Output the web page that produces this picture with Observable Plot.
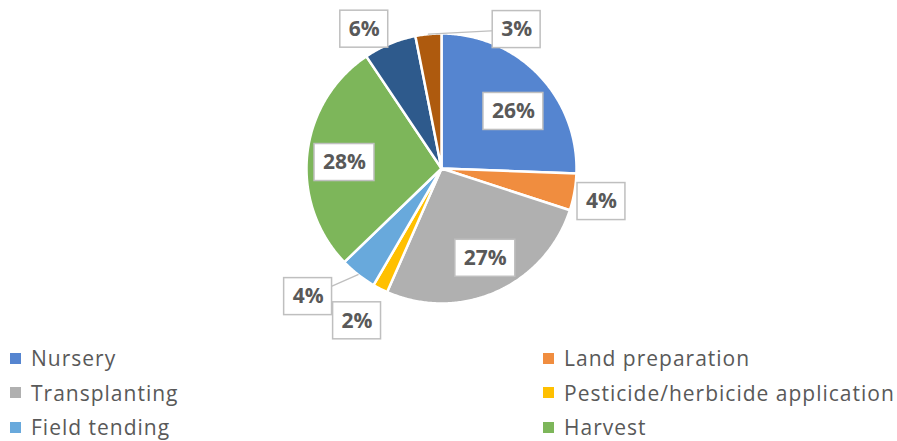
<!DOCTYPE html>
<html>
<head>
<meta charset="utf-8">
<script src="https://cdn.jsdelivr.net/npm/d3@7"></script>
<script src="https://cdn.jsdelivr.net/npm/@observablehq/plot@0.6"></script>
<style>
  html, body { margin: 0; padding: 0; background: #fff; }
  #chart svg { display: block; }
  #legend {
    display: grid;
    grid-template-columns: 533px 1fr;
    grid-auto-rows: 34.5px;
    padding-left: 10px;
    font-family: "Open Sans", Lato, sans-serif;
    font-size: 21px;
    letter-spacing: 1px;
    color: #595959;
  }
  .item { display: flex; align-items: center; white-space: nowrap; }
  .sw { width: 11px; height: 11px; margin-right: 10px; flex: none; }
</style>
</head>
<body>
<div id="chart"></div>
<div id="legend"></div>
<script>
// ---- data ----
const categories = ["Nursery", "Land preparation", "Transplanting", "Pesticide/herbicide application",
                    "Field tending", "Harvest", "Post-harvest", "Marketing"];
const values = [25.6, 4.4, 26.6, 1.8, 4.4, 27.8, 6.3, 3.1];
const legendShown = 6; // legend entries visible in the reference

// ---- style / layout ----
const colors = ["#5585D0", "#F08D3F", "#B0B0B0", "#FFC000", "#68A9DC", "#7DB65A", "#2E5A8C", "#AE5A0E"];
const W = 897, H = 341, R = 135, CX = 441, CY = 168;
// label placement: angle offset (deg) from slice middle, radius as fraction of R, leader line
const labelPlacement = [
  {dA: 5.5, rf: 0.68}, {dA: 1.6, rf: 1.21}, {dA: -1.9, rf: 0.74}, {dA: 2, rf: 1.29},
  {dA: 8, rf: 1.37, leader: true}, {dA: -2.6, rf: 0.72}, {dA: -6.5, rf: 1.18}, {dA: 34, rf: 1.17, leader: true}
];
const labelSize = 21;
const labelFont = `bold ${labelSize}px 'Open Sans'`;

// ---- derived geometry ----
const total = d3.sum(values);
const toRad = Math.PI / 180;
let acc = 0;
const slices = categories.map((c, i) => {
  const a0 = acc / total * 2 * Math.PI;
  acc += values[i];
  const a1 = acc / total * 2 * Math.PI;
  return {cat: c, value: values[i], a0, a1, label: Math.round(values[i] / total * 100) + "%"};
});

const arcPts = [];
for (const s of slices) {
  arcPts.push({cat: s.cat, x: 0, y: 0});
  const n = Math.max(2, Math.ceil((s.a1 - s.a0) / 0.01));
  for (let k = 0; k <= n; k++) {
    const a = s.a0 + (s.a1 - s.a0) * k / n;
    arcPts.push({cat: s.cat, x: Math.sin(a), y: Math.cos(a)});
  }
  arcPts.push({cat: s.cat, x: 0, y: 0});
}

const ctx = document.createElement("canvas").getContext("2d");
ctx.font = labelFont;
const labels = slices.map((s, i) => {
  const p = labelPlacement[i];
  const am = (s.a0 + s.a1) / 2;
  const a = am + p.dA * toRad;
  const lx = p.rf * Math.sin(a), ly = p.rf * Math.cos(a);
  const hw = (ctx.measureText(s.label).width / 2 + 8.5) / R;
  const hh = 18.5 / R;
  return {cat: s.cat, label: s.label, x: lx, y: ly, x1: lx - hw, x2: lx + hw, y1: ly - hh, y2: ly + hh,
          ex: Math.sin(am), ey: Math.cos(am), leader: !!p.leader};
});
const leaders = labels.filter(d => d.leader).flatMap(d => [
  {cat: d.cat, x: d.ex, y: d.ey}, {cat: d.cat, x: d.x, y: d.y}
]);

const chart = Plot.plot({
  width: W, height: H,
  marginLeft: CX - R, marginRight: W - CX - R,
  marginTop: CY - R, marginBottom: H - CY - R,
  x: {domain: [-1, 1], axis: null},
  y: {domain: [-1, 1], axis: null},
  color: {domain: categories, range: colors},
  style: {fontFamily: "'Open Sans', sans-serif", background: "white"},
  marks: [
    Plot.line(arcPts, {x: "x", y: "y", z: "cat", fill: "cat", stroke: "white", strokeWidth: 2.5, strokeLinejoin: "round"}),
    Plot.line(leaders, {x: "x", y: "y", z: "cat", stroke: "#BFBFBF", strokeWidth: 1.3}),
    Plot.rect(labels, {x1: "x1", x2: "x2", y1: "y1", y2: "y2", fill: "white", stroke: "#BFBFBF", strokeWidth: 1.5}),
    Plot.text(labels, {x: "x", y: "y", text: "label", fill: "#595959", fontSize: labelSize, fontWeight: "bold"})
  ]
});
document.getElementById("chart").append(chart);

const legend = document.getElementById("legend");
categories.slice(0, legendShown).forEach((c, i) => {
  const it = document.createElement("div");
  it.className = "item";
  const sw = document.createElement("span");
  sw.className = "sw";
  sw.style.background = colors[i];
  const t = document.createElement("span");
  t.textContent = c;
  it.append(sw, t);
  legend.append(it);
});
</script>
</body>
</html>
